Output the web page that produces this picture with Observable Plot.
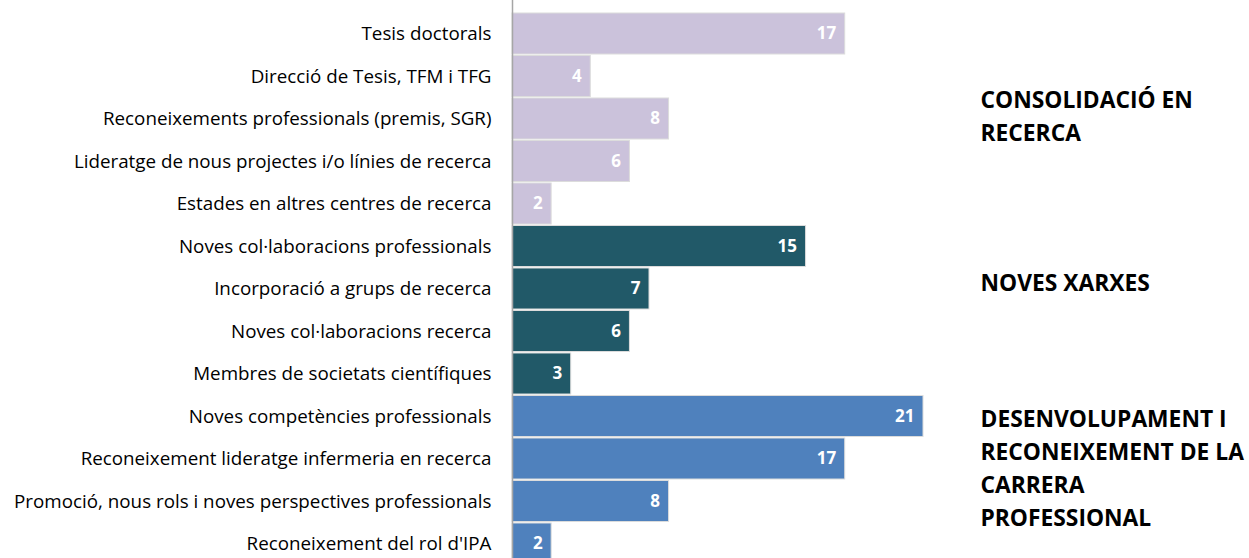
<!DOCTYPE html>
<html><head><meta charset="utf-8">
<script src="https://cdn.jsdelivr.net/npm/d3@7"></script>
<script src="https://cdn.jsdelivr.net/npm/@observablehq/plot@0.6"></script>
<style>
body{margin:0;background:#fff;}
svg{font-family:"Open Sans",sans-serif;}
</style></head>
<body><div id="chart"></div>
<script>
const categories = [
  "Tesis doctorals",
  "Direcció de Tesis, TFM i TFG",
  "Reconeixements professionals (premis, SGR)",
  "Lideratge de nous projectes i/o línies de recerca",
  "Estades en altres centres de recerca",
  "Noves col·laboracions professionals",
  "Incorporació a grups de recerca",
  "Noves col·laboracions recerca",
  "Membres de societats científiques",
  "Noves competències professionals",
  "Reconeixement lideratge infermeria en recerca",
  "Promoció, nous rols i noves perspectives professionals",
  "Reconeixement del rol d'IPA"
];
const values = [17, 4, 8, 6, 2, 15, 7, 6, 3, 21, 17, 8, 2];
const groups = ["C","C","C","C","C","N","N","N","N","D","D","D","D"];
const groupNames = ["CONSOLIDACIÓ EN\nRECERCA", "NOVES XARXES", "DESENVOLUPAMENT I\nRECONEIXEMENT DE LA\nCARRERA\nPROFESSIONAL"];
const groupKeys = ["C","N","D"];
const groupColors = ["#CBC2DB", "#215968", "#4F81BD"];
const groupLabelAnchor = [categories[2], categories[6], categories[11]];
const groupLabelDy = [-5, -9, -36];

const data = categories.map((c, i) => ({category: c, value: values[i], group: groups[i]}));
const labels = groupNames.map((n, i) => ({name: n, category: groupLabelAnchor[i], dy: groupLabelDy[i]}));

const plot = Plot.plot({
  width: 1249,
  height: 558,
  marginLeft: 512,
  marginRight: 326,
  marginTop: 0,
  marginBottom: 0,
  x: {domain: [0, 21], axis: null},
  y: {domain: categories, range: [11.5, 565.5], padding: 0.035, round: false, label: null, axis: null},
  color: {domain: groupKeys, range: groupColors},
  style: {fontSize: "19px", color: "#000"},
  marks: [
    Plot.barX(data, {y: "category", x: "value", fill: "group", stroke: "#dcdcdc", strokeWidth: 1}),
    Plot.ruleX([0], {stroke: "#a6a6a6", strokeWidth: 1.5}),
    Plot.text(data, {y: "category", x: "value", text: d => String(d.value), textAnchor: "end", dx: -9, fill: "white", fontWeight: "bold", fontSize: 17}),
    Plot.axisY({tickSize: 0, tickPadding: 21, fontSize: 18.8, label: null}),
    ...labels.map(l => Plot.text([l], {y: "category", text: "name", frameAnchor: "right", dx: 57, dy: l.dy, textAnchor: "start", fontWeight: "bold", fontSize: 22.8, lineHeight: 1.447, fill: "#000"}))
  ]
});
document.getElementById("chart").appendChild(plot);
</script></body></html>
